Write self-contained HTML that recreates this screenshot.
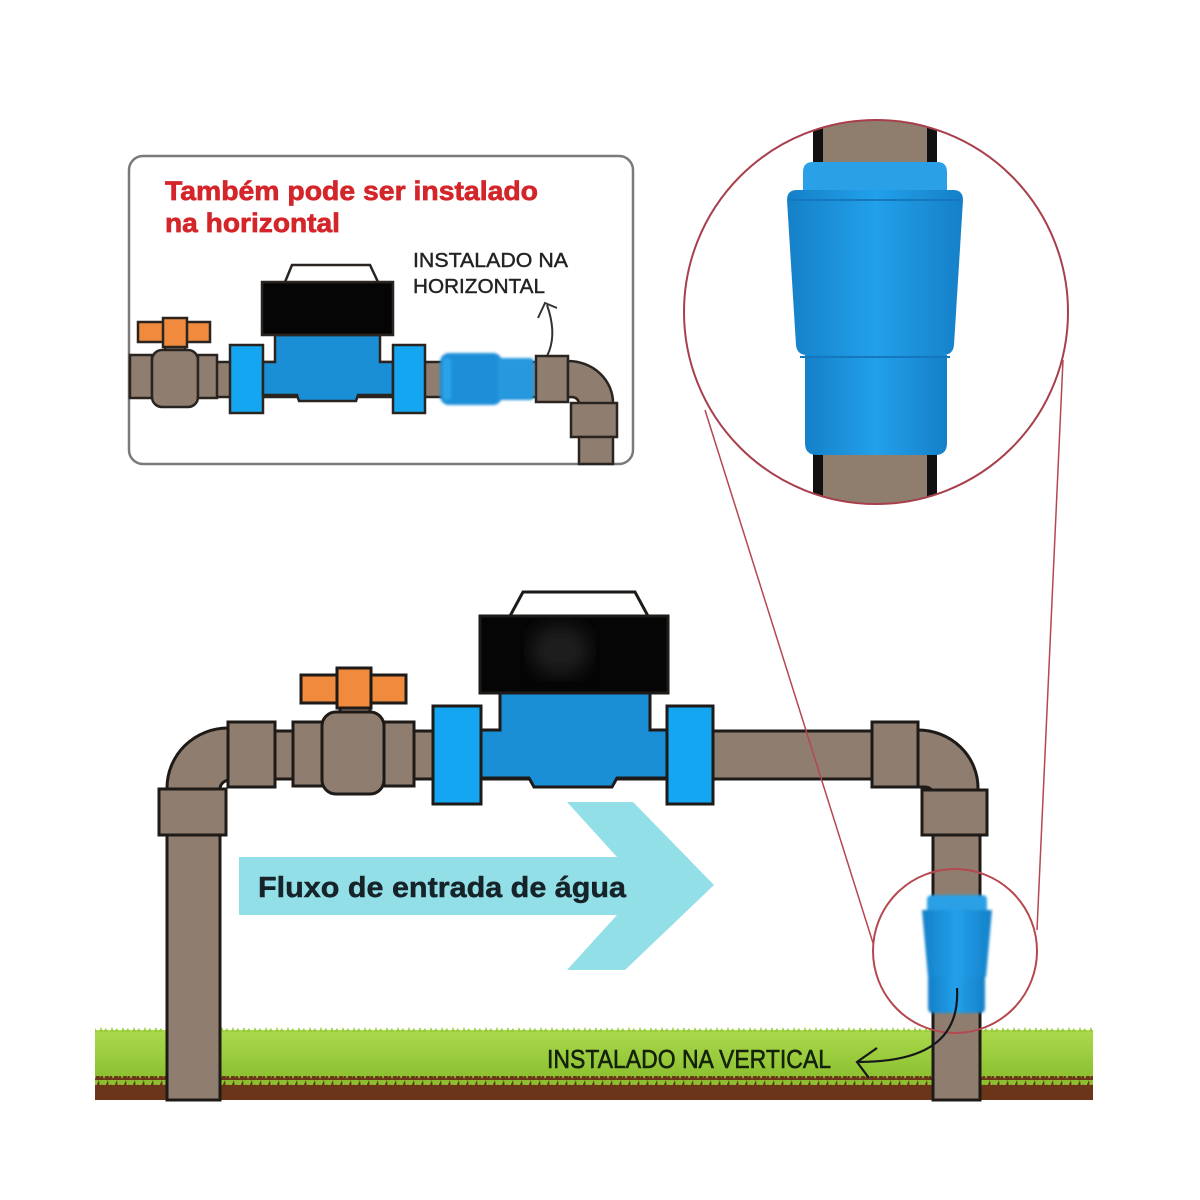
<!DOCTYPE html>
<html><head><meta charset="utf-8"><style>
html,body{margin:0;padding:0;background:#fff;}
svg{display:block;}
text{font-family:"Liberation Sans",sans-serif;}
</style></head><body>
<svg width="1200" height="1200" viewBox="0 0 1200 1200" xmlns="http://www.w3.org/2000/svg">
<defs>
  <clipPath id="bigc"><circle cx="876" cy="312" r="192"/></clipPath>
  <linearGradient id="bv" x1="0" x2="1" y1="0" y2="0">
    <stop offset="0" stop-color="#1580c8"/>
    <stop offset="0.5" stop-color="#22a0ea"/>
    <stop offset="1" stop-color="#1580c8"/>
  </linearGradient>
  <linearGradient id="grass" x1="0" x2="0" y1="0" y2="1">
    <stop offset="0" stop-color="#aada4c"/>
    <stop offset="1" stop-color="#8cc030"/>
  </linearGradient>
  <pattern id="blades" x="0" y="0" width="9" height="10" patternUnits="userSpaceOnUse">
    <polygon points="0,0 9,0 5,9 3,4 1,8" fill="#8cc030"/>
  </pattern>
  <pattern id="tops" x="0" y="0" width="11" height="6" patternUnits="userSpaceOnUse">
    <polygon points="0,6 2,1 4,6 7,2 9,6" fill="#98cc3c"/>
  </pattern>
  <filter id="blur"><feGaussianBlur stdDeviation="9"/></filter>
  <filter id="blur2"><feGaussianBlur stdDeviation="1.2"/></filter>
</defs>

<rect x="0" y="0" width="1200" height="1200" fill="#fff"/>

<!-- ===== INSET BOX ===== -->
<rect x="129" y="156" width="504" height="308" rx="14" fill="#fff" stroke="#7a7a7a" stroke-width="2.5"/>
<text x="165" y="200" font-size="27" font-weight="bold" fill="#d4262a" stroke="#d4262a" stroke-width="0.7" textLength="373" lengthAdjust="spacingAndGlyphs">Também pode ser instalado</text>
<text x="165" y="232" font-size="27" font-weight="bold" fill="#d4262a" stroke="#d4262a" stroke-width="0.7" textLength="175" lengthAdjust="spacingAndGlyphs">na horizontal</text>
<text x="413" y="267" font-size="20" fill="#222" stroke="#222" stroke-width="0.4" textLength="155" lengthAdjust="spacingAndGlyphs">INSTALADO NA</text>
<text x="413" y="293" font-size="20" fill="#222" stroke="#222" stroke-width="0.4" textLength="132" lengthAdjust="spacingAndGlyphs">HORIZONTAL</text>
<path d="M523,378 C548,366 560,342 547,305" fill="none" stroke="#333" stroke-width="2"/>
<path d="M538,318 L545,303 L557,308" fill="none" stroke="#333" stroke-width="2"/>

<g stroke="#2a2420" stroke-width="2.5">
  <rect x="130" y="362" width="440" height="35" fill="#8f7e6f"/>
  <rect x="130" y="355" width="22" height="43" fill="#8f7e6f"/>
  <rect x="165" y="344" width="20" height="8" fill="#8f7e6f"/>
  <rect x="152" y="350" width="46" height="57" rx="10" fill="#8f7e6f"/>
  <rect x="198" y="355" width="19" height="43" fill="#8f7e6f"/>
  <rect x="138" y="322" width="72" height="20" fill="#f08a3c"/>
  <rect x="163" y="318" width="24" height="29" fill="#f08a3c"/>
  <rect x="230" y="345" width="33" height="68" fill="#14a6f0"/>
  <polygon points="263,362 275,362 275,335 380,335 380,362 393,362 393,395 358,395 356,401 299,401 297,395 263,395" fill="#1b8fd6"/>
  <rect x="262" y="282" width="131" height="53" fill="#050505"/>
  <polygon points="285,282 292,265 370,265 378,282" fill="#fff"/>
  <rect x="393" y="345" width="32" height="68" fill="#14a6f0"/>
  <rect x="536" y="356" width="32" height="46" fill="#8f7e6f"/>
  <path d="M568,361 A45,42 0 0 1 613,403 L613,410 L579,410 L579,405 Q579,397 571,397 L568,397 Z" fill="#8f7e6f"/>
  <rect x="571" y="403" width="46" height="34" fill="#8f7e6f"/>
  <rect x="579" y="437" width="34" height="27" fill="#8f7e6f"/>
</g>
<g filter="url(#blur2)">
  <rect x="440" y="353" width="62" height="52" rx="9" fill="#1e8fd8"/>
  <rect x="498" y="358" width="36" height="42" rx="4" fill="#2598de"/>
  <rect x="443" y="358" width="8" height="42" rx="3" fill="#2aa2e8"/>
</g>

<!-- ===== BIG CIRCLE ===== -->
<g clip-path="url(#bigc)">
  <rect x="813" y="100" width="124" height="420" fill="#111"/>
  <rect x="823" y="100" width="104" height="420" fill="#8f7d6d"/>
  <path d="M803,192 L803,172 Q803,162 813,162 L937,162 Q947,162 947,172 L947,192 Z" fill="#2aa0e6"/>
  <path d="M787,200 Q787,190 797,190 L953,190 Q963,190 963,200 L954,345 Q953,355 943,355 L807,355 Q797,355 796,345 Z" fill="url(#bv)"/>
  <line x1="790" y1="200" x2="960" y2="200" stroke="#1577bd" stroke-width="2"/>
  <path d="M805,355 L947,355 L947,443 Q947,455 935,455 L817,455 Q805,455 805,443 Z" fill="url(#bv)"/>
  <line x1="800" y1="357" x2="950" y2="357" stroke="#1577bd" stroke-width="2"/>
</g>
<circle cx="876" cy="312" r="192" fill="none" stroke="#a8404c" stroke-width="2"/>

<!-- ===== GROUND ===== -->
<rect x="95" y="1030" width="998" height="48" fill="url(#grass)"/>
<rect x="95" y="1026" width="998" height="6" fill="url(#tops)"/>
<rect x="95" y="1076" width="998" height="24" fill="#6a3519"/>
<rect x="95" y="1076" width="998" height="9" fill="url(#blades)"/>

<!-- ===== FLOW ARROW ===== -->
<polygon points="239,857 617,857 567,802 633,802 714,885 625,970 567,970 617,915 239,915" fill="#93dfe7"/>
<text x="258" y="897" font-size="29" font-weight="bold" fill="#16242a" stroke="#16242a" stroke-width="0.5" textLength="368" lengthAdjust="spacingAndGlyphs">Fluxo de entrada de água</text>

<!-- ===== MAIN PIPING ===== -->
<g stroke="#1e1a17" stroke-width="3">
  <rect x="167" y="830" width="53" height="270" fill="#8f7e6f"/>
  <path d="M167,800 L167,788 A61,60 0 0 1 228,728 L240,728 L240,780 L230,780 A10,9 0 0 0 220,789 L220,800 Z" fill="#8f7e6f"/>
  <rect x="159" y="789" width="67" height="46" fill="#8f7e6f"/>
  <rect x="228" y="731" width="650" height="48" fill="#8f7e6f"/>
  <rect x="228" y="722" width="47" height="65" fill="#8f7e6f"/>
  <rect x="293" y="722" width="30" height="64" fill="#8f7e6f"/>
  <rect x="340" y="704" width="30" height="12" fill="#8f7e6f"/>
  <rect x="322" y="712" width="62" height="82" rx="14" fill="#8f7e6f"/>
  <rect x="384" y="722" width="30" height="64" fill="#8f7e6f"/>
  <rect x="301" y="675" width="105" height="28" fill="#f08a3c"/>
  <rect x="337" y="668" width="34" height="40" fill="#f08a3c"/>
  <rect x="433" y="706" width="48" height="98" fill="#14a6f0"/>
  <polygon points="481,730 500,730 500,693 650,693 650,730 667,730 667,778 617,778 612,787 534,787 529,778 481,778" fill="#1b8fd6"/>
  <rect x="480" y="616" width="188" height="77" fill="#050505"/>
  <polygon points="510,616 523,592 635,592 648,616" fill="#fff"/>
  <rect x="667" y="706" width="46" height="98" fill="#14a6f0"/>
  <rect x="872" y="722" width="46" height="65" fill="#8f7e6f"/>
  <path d="M918,730 A60,58 0 0 1 978,788 L978,800 L933,800 L933,796 Q933,787 924,787 L918,787 Z" fill="#8f7e6f"/>
  <rect x="922" y="790" width="65" height="45" fill="#8f7e6f"/>
  <rect x="933" y="835" width="47" height="265" fill="#8f7e6f"/>
</g>
<ellipse cx="560" cy="650" rx="30" ry="26" fill="#2e2e2e" filter="url(#blur)" opacity="0.6"/>

<!-- small check valve -->
<g filter="url(#blur2)">
  <path d="M927,910 L927,900 Q927,895 932,895 L982,895 Q987,895 987,900 L987,910 Z" fill="#2aa0e6"/>
  <path d="M922,910 L992,910 L986,977 L928,977 Z" fill="url(#bv)"/>
  <path d="M928,977 L985,977 L985,1008 Q985,1013 980,1013 L933,1013 Q928,1013 928,1008 Z" fill="url(#bv)"/>
</g>

<!-- small circle + tangent lines -->
<circle cx="955" cy="951" r="82" fill="none" stroke="#b5474f" stroke-width="2"/>
<line x1="705" y1="410" x2="873" y2="943" stroke="#b5474f" stroke-width="1.5"/>
<line x1="1063" y1="360" x2="1037" y2="930" stroke="#b5474f" stroke-width="1.5"/>

<!-- vertical label -->
<text x="547" y="1068" font-size="26" fill="#14220c" stroke="#14220c" stroke-width="0.6" textLength="284" lengthAdjust="spacingAndGlyphs">INSTALADO NA VERTICAL</text>
<path d="M957,988 C960,1040 925,1062 858,1062" fill="none" stroke="#14181a" stroke-width="2.2"/>
<path d="M877,1048 L857,1062 L869,1078" fill="none" stroke="#14181a" stroke-width="2.2"/>
</svg>
</body></html>
